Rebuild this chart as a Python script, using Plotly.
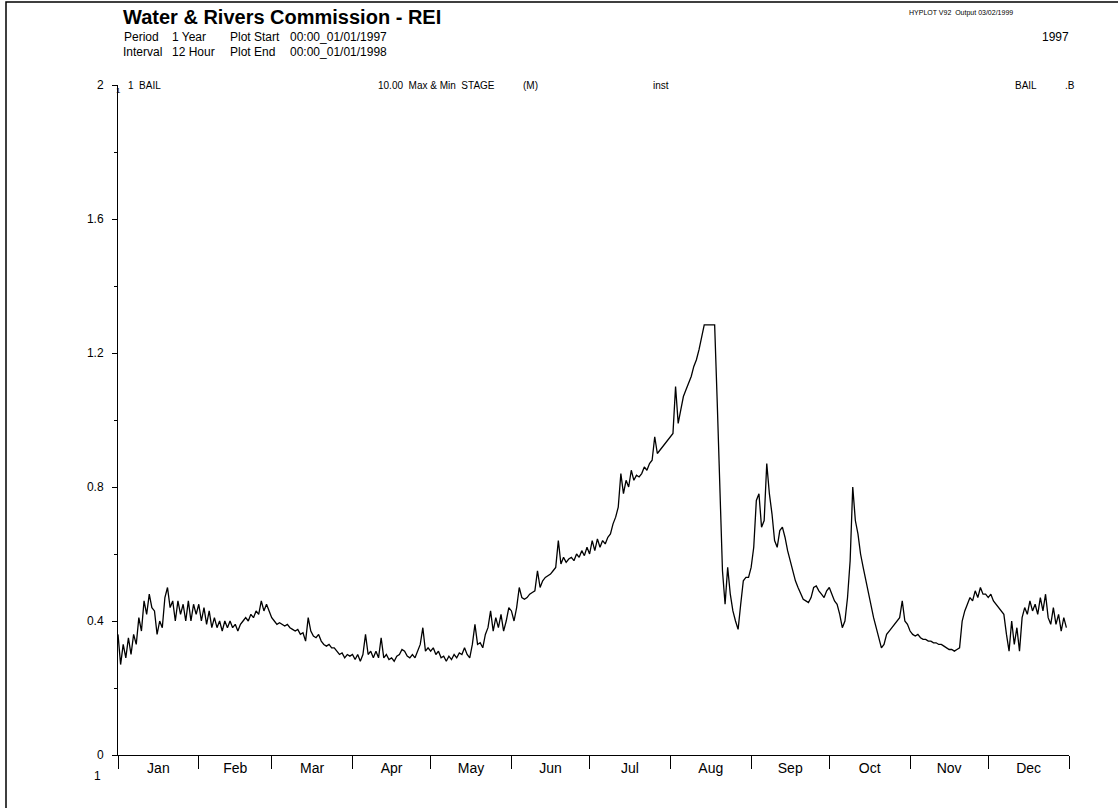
import pandas as pd
import plotly.graph_objects as go

# ---- data: daily stage values (m), 1997 ----
jan = [0.36, 0.27, 0.33, 0.29, 0.35, 0.30, 0.36, 0.33, 0.41, 0.37, 0.46, 0.42, 0.48, 0.44, 0.43, 0.36,
       0.40, 0.38, 0.47, 0.50, 0.44, 0.46, 0.40, 0.46, 0.42, 0.45, 0.40, 0.46, 0.40, 0.45, 0.42]
feb = [0.45, 0.40, 0.44, 0.39, 0.43, 0.38, 0.41, 0.38, 0.40, 0.37, 0.40, 0.38, 0.40, 0.38, 0.39, 0.37,
       0.39, 0.40, 0.41, 0.40, 0.42, 0.41, 0.43, 0.42, 0.46, 0.43, 0.45, 0.43]
mar = [0.41, 0.40, 0.39, 0.395, 0.39, 0.385, 0.39, 0.38, 0.375, 0.37, 0.375, 0.36, 0.365, 0.34, 0.41,
       0.37, 0.355, 0.35, 0.36, 0.34, 0.33, 0.325, 0.33, 0.32, 0.32, 0.31, 0.30, 0.305, 0.29, 0.30, 0.295]
apr = [0.30, 0.285, 0.30, 0.28, 0.30, 0.36, 0.30, 0.31, 0.29, 0.31, 0.29, 0.35, 0.29, 0.30, 0.285,
       0.29, 0.28, 0.295, 0.30, 0.315, 0.31, 0.295, 0.29, 0.30, 0.29, 0.31, 0.33, 0.38, 0.31, 0.32]
may = [0.31, 0.32, 0.30, 0.31, 0.29, 0.295, 0.28, 0.295, 0.285, 0.30, 0.29, 0.305, 0.30, 0.32, 0.30,
       0.29, 0.33, 0.39, 0.33, 0.335, 0.32, 0.36, 0.38, 0.43, 0.37, 0.41, 0.38, 0.42, 0.37, 0.40, 0.44]
jun = [0.43, 0.40, 0.44, 0.50, 0.47, 0.465, 0.47, 0.48, 0.485, 0.49, 0.55, 0.50, 0.52, 0.53, 0.535,
       0.54, 0.55, 0.56, 0.64, 0.57, 0.59, 0.575, 0.585, 0.59, 0.58, 0.60, 0.59, 0.61, 0.595, 0.62]
jul = [0.60, 0.64, 0.61, 0.645, 0.62, 0.64, 0.63, 0.65, 0.66, 0.69, 0.71, 0.74, 0.84, 0.78, 0.82,
       0.80, 0.85, 0.82, 0.835, 0.83, 0.84, 0.86, 0.85, 0.87, 0.88, 0.95, 0.90, 0.91, 0.92, 0.93, 0.94]
aug = [0.95, 0.96, 1.10, 0.99, 1.03, 1.07, 1.09, 1.11, 1.13, 1.16, 1.18, 1.21, 1.25, 1.284, 1.284,
       1.284, 1.284, 1.284, 1.05, 0.80, 0.55, 0.45, 0.56, 0.48, 0.43, 0.40, 0.375, 0.45, 0.52, 0.53, 0.53]
sep = [0.56, 0.62, 0.76, 0.78, 0.68, 0.70, 0.87, 0.78, 0.72, 0.64, 0.62, 0.67, 0.68, 0.65, 0.61,
       0.58, 0.55, 0.52, 0.50, 0.48, 0.465, 0.46, 0.455, 0.47, 0.50, 0.505, 0.49, 0.48, 0.47, 0.49]
oct_ = [0.50, 0.48, 0.46, 0.45, 0.42, 0.38, 0.40, 0.47, 0.58, 0.80, 0.70, 0.66, 0.60, 0.56, 0.52,
        0.49, 0.45, 0.41, 0.38, 0.35, 0.32, 0.33, 0.36, 0.37, 0.38, 0.39, 0.40, 0.41, 0.46, 0.40, 0.39]
nov = [0.37, 0.36, 0.355, 0.36, 0.35, 0.345, 0.345, 0.34, 0.34, 0.335, 0.335, 0.33, 0.33, 0.325, 0.32,
       0.315, 0.315, 0.31, 0.315, 0.32, 0.40, 0.43, 0.45, 0.47, 0.46, 0.49, 0.47, 0.50, 0.48, 0.48]
dec = [0.47, 0.48, 0.46, 0.45, 0.44, 0.43, 0.42, 0.36, 0.31, 0.40, 0.33, 0.38, 0.31, 0.41, 0.44,
       0.42, 0.46, 0.43, 0.45, 0.42, 0.47, 0.43, 0.48, 0.41, 0.39, 0.44, 0.39, 0.42, 0.37, 0.41, 0.38]

stage = jan + feb + mar + apr + may + jun + jul + aug + sep + oct_ + nov + dec
dates = pd.date_range("1997-01-01", periods=len(stage), freq="D")

y_tick_vals = [0, 0.4, 0.8, 1.2, 1.6, 2]
y_tick_text = ["0", "0.4", "0.8", "1.2", "1.6", "2"]

FONT = "Liberation Sans, Arial, Helvetica, sans-serif"

fig = go.Figure()
fig.add_trace(go.Scatter(x=dates, y=stage, mode="lines",
                         line=dict(color="black", width=1.3), showlegend=False,
                         hoverinfo="x+y"))

W, H = 1118, 808
L, R, T, B = 118, 49, 85, 53
PW, PH = W - L - R, H - T - B


def px(x):
    return (x - L) / PW


def py(y):
    return (H - B - y) / PH


ann = []


def text(s, x, y, size, anchor="left", bold=False):
    ann.append(dict(text=("<b>%s</b>" % s) if bold else s, x=px(x), y=py(y),
                    xref="paper", yref="paper", xanchor=anchor, yanchor="middle",
                    showarrow=False, font=dict(family=FONT, size=size, color="black")))


text("Water &amp; Rivers Commission - REI", 121, 17, 20, bold=True)
text("Period", 122, 37, 12)
text("1 Year", 170, 37, 12)
text("Plot Start", 228, 37, 12)
text("00:00_01/01/1997", 288, 37, 12)
text("Interval", 121, 52, 12)
text("12 Hour", 170, 52, 12)
text("Plot End", 228, 52, 12)
text("00:00_01/01/1998", 288, 52, 12)
text("HYPLOT V92  Output 03/02/1999", 907, 13, 7)
text("1997", 1071, 37, 12, anchor="right")
text("1  BAIL", 126, 85, 10)
text("10.00  Max &amp; Min  STAGE", 376, 85, 10)
text("(M)", 521, 85, 10)
text("inst", 651, 85, 10)
text("BAIL", 1013, 85, 10)
text(".B", 1063, 85, 10)
text("1", 118, 90, 8, anchor="center")
text("1", 97, 776, 12, anchor="center")

fig.update_layout(
    width=W, height=H,
    margin=dict(l=L, r=R, t=T, b=B, pad=0),
    paper_bgcolor="white", plot_bgcolor="white",
    font=dict(family=FONT, size=12, color="black"),
    annotations=ann,
    shapes=[dict(type="rect", xref="paper", yref="paper",
                 x0=px(6), x1=px(1130), y0=py(820), y1=py(2),
                 line=dict(color="black", width=1.5), fillcolor="rgba(0,0,0,0)", layer="below")],
    xaxis=dict(type="date", range=["1997-01-01", "1998-01-01"],
               tick0="1997-01-01", dtick="M1", tickformat="%b", ticklabelmode="period",
               ticks="outside", ticklen=13, tickwidth=1, tickcolor="black",
               ticklabelstandoff=-13,
               showline=True, linecolor="black", linewidth=1, showgrid=False, zeroline=False,
               tickfont=dict(family=FONT, size=14, color="black")),
    yaxis=dict(range=[0, 2], tickvals=y_tick_vals, ticktext=y_tick_text,
               ticks="outside", ticklen=5, tickcolor="black",
               minor=dict(ticks="outside", dtick=0.2, ticklen=3, tickcolor="black", showgrid=False),
               showline=True, linecolor="black", linewidth=1, showgrid=False, zeroline=False,
               ticklabelstandoff=6,
               tickfont=dict(family=FONT, size=12, color="black")),
)

fig.write_html("out.html", config={"displayModeBar": False},
               post_script="document.body.style.margin='0';document.documentElement.style.overflow='hidden';")
